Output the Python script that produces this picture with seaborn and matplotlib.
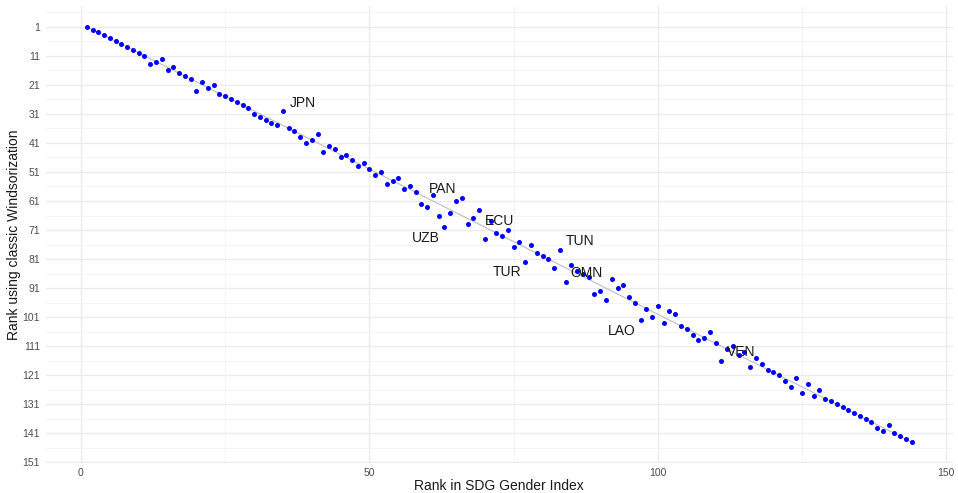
import numpy as np
import pandas as pd
import seaborn as sns
import matplotlib.pyplot as plt
from matplotlib.ticker import MultipleLocator

# rank in SDG Gender Index (1..144) and rank using classic Windsorization
sdg_rank = list(range(1, 145))
wind_rank = [1, 2, 3, 4, 5, 6, 7, 8, 9, 10, 11,
             14, 13, 12, 16, 15, 17, 18, 19,
             23, 20, 22, 21, 24, 25,
             26, 27, 28, 29,
             31, 32, 33, 34, 35,
             30,
             36, 37,
             39, 41, 40, 38,
             44, 42, 43, 46, 45, 47, 49, 48, 50,
             52, 51, 55, 54, 53, 57, 56, 58,
             62, 63, 59, 66, 70, 65, 61, 60,
             69, 67, 64, 74, 68, 72, 73, 71, 77, 75,
             82, 76, 79, 80, 81, 84, 78,
             89, 83, 85, 86, 87, 93, 92, 95, 88, 91, 90, 94, 96,
             102, 98, 101, 97, 103, 99, 100,
             104, 105, 107, 109, 108, 106, 110,
             116, 112, 111, 114, 113, 118, 115, 117, 119, 120, 121,
             123, 125, 122, 127, 124, 128, 126,
             129, 130, 131, 132, 133, 134, 135, 136, 137,
             139, 140, 138, 141, 142, 143, 144]

# labelled countries (by SDG rank) and where their text sits relative to the point
label_names = ["JPN", "PAN", "ECU", "UZB", "TUN", "TUR", "OMN", "LAO", "VEN"]
label_sdg = [35, 65, 69, 63, 83, 77, 84, 97, 111]
label_dx = [3.4, -2.35, 3.5, -3.2, 3.5, -3.2, 3.6, -3.3, 3.5]
label_dy = [-2.9, -4.2, 3.85, 3.7, -3.15, 3.5, -3.3, 3.6, -3.05]

df = pd.DataFrame({"sdg": sdg_rank, "wind": wind_rank})

sns.set_style("white")
plt.rcParams['font.family'] = ['Liberation Sans', 'DejaVu Sans']

fig = plt.figure(figsize=(9.58, 4.93), dpi=100)
ax = fig.add_axes([0.0475, 0.061, 0.9473, 0.927])

lo, hi = min(sdg_rank), max(sdg_rank)
ax.plot([lo, hi], [lo, hi], color="#BEBEBE", lw=0.8, zorder=2)
sns.scatterplot(data=df, x="sdg", y="wind", ax=ax, color="#0000FF",
                s=13, linewidth=0, zorder=3)

for name, r, dx, dy in zip(label_names, label_sdg, label_dx, label_dy):
    ax.text(r + dx, wind_rank[r - 1] + dy, name, fontsize=10,
            color="#1A1A1A", ha="center", va="center", zorder=4)

ax.set_xlim(-6.15, 151.15)
ax.set_ylim(151.15, -6.15)
ax.set_xticks([0, 50, 100, 150])
ax.set_yticks(list(range(1, 152, 10)))
ax.xaxis.set_minor_locator(MultipleLocator(25))
ax.set_yticks(list(range(-4, 152, 10)), minor=True)

ax.grid(which="major", color="#EBEBEB", lw=1.0)
ax.grid(which="minor", color="#F2F2F2", lw=0.6)
ax.set_axisbelow(True)
for sp in ax.spines.values():
    sp.set_visible(False)

ax.tick_params(which="both", length=0, labelsize=7.5, labelcolor="#4D4D4D", pad=4)
ax.set_xlabel("Rank in SDG Gender Index", fontsize=10, color="#1A1A1A", labelpad=0.5)
ax.set_ylabel("Rank using classic Windsorization", fontsize=10, color="#1A1A1A", labelpad=1)

fig.savefig("out.png", dpi=100)
